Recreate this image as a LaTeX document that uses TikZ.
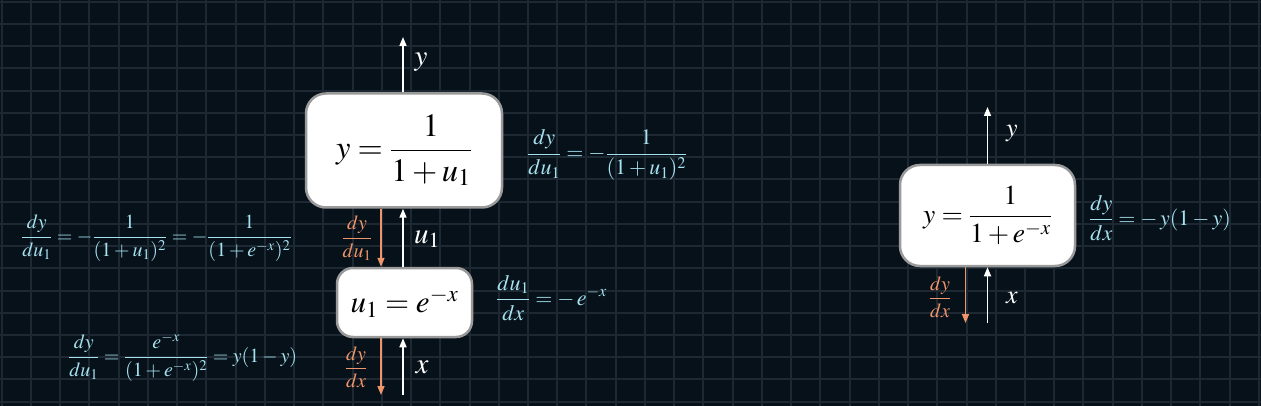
\RequirePackage{fix-cm}
\documentclass[tikz,border=0pt]{standalone}
\usepackage{mathptmx}
\usetikzlibrary{arrows.meta}
\definecolor{bg}{HTML}{07111A}
\definecolor{gridc}{HTML}{1D2833}
\definecolor{cyanl}{HTML}{A6E1EF}
\definecolor{orng}{HTML}{F0956A}
\definecolor{boxb}{HTML}{9A9A9A}
\tikzset{
  fbox/.style={draw=boxb, line width=2.5pt, fill=white, rounded corners=20pt, inner sep=0pt},
  warrow/.style={draw=white, line width=1.6pt, -{Triangle[length=9pt,width=7pt]}},
  oarrow/.style={draw=orng, line width=1.6pt, -{Triangle[length=9pt,width=7pt]}},
  big/.style={font=\fontsize{32.5}{38}\selectfont, text=black},
  bigb/.style={font=\fontsize{31}{36}\selectfont, text=black},
  mid/.style={font=\fontsize{27.5}{32}\selectfont, text=black},
  wlab/.style={font=\fontsize{29}{32}\selectfont, text=white, inner sep=0pt},
  wlabs/.style={font=\fontsize{26}{30}\selectfont, text=white, inner sep=0pt},
  clab/.style={font=\fontsize{22}{26}\selectfont, text=cyanl, inner sep=0pt},
  clabs/.style={font=\fontsize{20}{24}\selectfont, text=cyanl, inner sep=0pt},
  olab/.style={font=\fontsize{20}{24}\selectfont, text=orng, inner sep=0pt},
}
\begin{document}
\begin{tikzpicture}[x=1pt,y=-1pt]
\useasboundingbox (0,0) rectangle (1261,406);
\fill[bg] (0,0) rectangle (1261,406);
\foreach \k in {0,...,43} {\draw[gridc, line width=2pt] ({1.77+29.235*\k},0) -- ({1.77+29.235*\k},406);}
\foreach \k in {0,...,18} {\draw[gridc, line width=2pt] (0,{1.7+22.22*\k}) -- (1261,{1.7+22.22*\k});}

% boxes
\node[fbox, big, minimum width=196pt, minimum height=114pt] (box1) at (404,150.5) {$\displaystyle y=\frac{1}{1+u_1}$};
\node[fbox, bigb, rounded corners=16pt, minimum width=135pt, minimum height=69pt] (box2) at (404.5,302.5) {$u_1=e^{-x}$};
\node[fbox, mid, minimum width=175pt, minimum height=101pt] (box3) at (987.5,215.5) {$\displaystyle y=\frac{1}{1+e^{-x}}$};

% coordinates for free ends
\coordinate (ytop) at (403,37);
\coordinate (xbotw) at (403,395);
\coordinate (xboto) at (381,395);
\coordinate (ytop3) at (987.5,107);
\coordinate (xbotw3) at (987.5,323);
\coordinate (xboto3) at (965.5,323);

% left column arrows
\draw[warrow] (box1.north -| ytop) -- (ytop);
\draw[oarrow] (box1.south -| xboto) -- (box2.north -| xboto);
\draw[warrow] (box2.north -| ytop) -- (box1.south -| ytop);
\draw[oarrow] (box2.south -| xboto) -- (xboto);
\draw[warrow] (xbotw) -- (box2.south -| xbotw);

% right arrows
\draw[warrow] (box3.north) -- (ytop3);
\draw[oarrow] (box3.south -| xboto3) -- (xboto3);
\draw[warrow] (xbotw3) -- (box3.south -| xbotw3);

% white labels
\node[wlab] (ly) at (421,62) {$y$};
\node[wlab] (lu) at (427,239) {$u_1$};
\node[wlab] (lx) at (422,367) {$x$};
\node[wlabs] (ly3) at (1012,134) {$y$};
\node[wlabs] (lx3) at (1012,298) {$x$};

% orange labels
\node[olab] (o1) at (357,238) {$\displaystyle\frac{dy}{du_1}$};
\node[olab] (o2) at (356,367) {$\displaystyle\frac{dy}{dx}$};
\node[olab] (o3) at (940,297) {$\displaystyle\frac{dy}{dx}$};

% cyan labels
\node[clab, anchor=west] (c1) at (527,155) {$\displaystyle\frac{dy}{du_1}=-\frac{1}{(1+u_1)^2}$};
\node[clab, anchor=west] (c2) at (496,298) {$\displaystyle\frac{du_1}{dx}=-\,e^{-x}$};
\node[clab, anchor=west] (c3) at (1089,218) {$\displaystyle\frac{dy}{dx}=-\,y(1-y)$};
\node[clabs, anchor=west] (c4) at (21,238) {$\displaystyle\frac{dy}{du_1}=-\frac{1}{(1+u_1)^2}=-\frac{1}{(1+e^{-x})^2}$};
\node[clabs, anchor=west] (c5) at (68,357) {$\displaystyle\frac{dy}{du_1}=\frac{e^{-x}}{(1+e^{-x})^2}=y(1-y)$};
\end{tikzpicture}
\end{document}
